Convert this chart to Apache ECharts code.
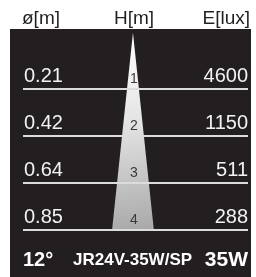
<!DOCTYPE html>
<html>
<head>
<meta charset="utf-8">
<script src="https://cdn.jsdelivr.net/npm/echarts@6/dist/echarts.min.js"></script>
<style>
  html, body { margin: 0; padding: 0; background: #fff; }
  #ec { width: 256px; height: 277px; }
</style>
</head>
<body>
<div id="ec"></div>
<script>
// table data
var headers = ['ø[m]', 'H[m]', 'E[lux]']
var heights = [1, 2, 3, 4]
var diameters = ['0.21', '0.42', '0.64', '0.85']
var lux = [4600, 1150, 511, 288]
var beamAngle = '12°'
var lampName = 'JR24V-35W/SP'
var power = '35W'

var font = '"Liberation Sans", Arial, Helvetica, sans-serif'
var maxH = heights[heights.length - 1]
var maxD = parseFloat(diameters[diameters.length - 1])

var chart = echarts.init(document.getElementById('ec'))

chart.setOption({
  animation: false,
  grid: {
    left: 10,
    right: 5,
    top: 29,
    bottom: 0,
    show: true,
    backgroundColor: '#231f20',
    borderWidth: 0
  },
  xAxis: { type: 'value', min: -2.5, max: 2.4, show: false },
  yAxis: { type: 'value', inverse: true, min: -0.28, max: 5, show: false },
  graphic: [
    { type: 'text', left: 22, top: 9, style: { text: headers[0], fill: '#231f20', font: '19px ' + font } },
    { type: 'text', x: 134, y: 18.5, style: { text: headers[1], fill: '#231f20', font: '19px ' + font, align: 'center', verticalAlign: 'middle' } },
    { type: 'text', x: 250, y: 18.5, style: { text: headers[2], fill: '#231f20', font: '19px ' + font, align: 'right', verticalAlign: 'middle' } },
    { type: 'text', x: 23, y: 260, z: 10, style: { text: beamAngle, fill: '#ffffff', font: 'bold 20px ' + font, align: 'left', verticalAlign: 'middle' } },
    { type: 'text', x: 73, y: 260.5, z: 10, style: { text: lampName, fill: '#ffffff', font: 'bold 17px ' + font, align: 'left', verticalAlign: 'middle' } },
    { type: 'text', x: 248, y: 260, z: 10, style: { text: power, fill: '#ffffff', font: 'bold 21px ' + font, align: 'right', verticalAlign: 'middle' } }
  ],
  series: [
    {
      // light cone
      type: 'custom',
      z: 1,
      data: [[0, maxH]],
      renderItem: function (params, api) {
        var tip = api.coord([0, -0.2])
        var l = api.coord([-maxD / 2, maxH])
        var r = api.coord([maxD / 2, maxH])
        return {
          type: 'polygon',
          shape: { points: [tip, l, r] },
          style: {
            fill: new echarts.graphic.LinearGradient(0.2, 0, 0.8, 1, [
              { offset: 0, color: '#ffffff' },
              { offset: 0.45, color: '#e4e4e4' },
              { offset: 1, color: '#a9a9a9' }
            ])
          }
        }
      }
    },
    {
      // rows
      type: 'custom',
      z: 2,
      data: heights.map(function (h) { return [0, h] }),
      renderItem: function (params, api) {
        var i = params.dataIndex
        var p = api.coord([0, heights[i]])
        var cs = params.coordSys
        var x0 = cs.x + 13
        var x1 = cs.x + cs.width - 3
        return {
          type: 'group',
          children: [
            {
              type: 'line',
              shape: { x1: x0, y1: p[1], x2: x1, y2: p[1] },
              style: { stroke: '#dcdcdc', lineWidth: 2 }
            },
            {
              type: 'text',
              x: x0 + 1,
              y: p[1] - 13,
              style: { text: diameters[i], fill: '#f2f2f2', font: '20px ' + font, align: 'left', verticalAlign: 'middle' }
            },
            {
              type: 'text',
              x: x1,
              y: p[1] - 13,
              style: { text: String(lux[i]), fill: '#f2f2f2', font: '20px ' + font, align: 'right', verticalAlign: 'middle' }
            },
            {
              type: 'text',
              x: p[0] + 1,
              y: p[1] - 10,
              style: { text: String(heights[i]), fill: '#3a3a3a', font: '14px ' + font, align: 'center', verticalAlign: 'middle' }
            }
          ]
        }
      }
    }
  ]
})

window.addEventListener('resize', function () {
  chart.resize()
})
</script>
</body>
</html>
